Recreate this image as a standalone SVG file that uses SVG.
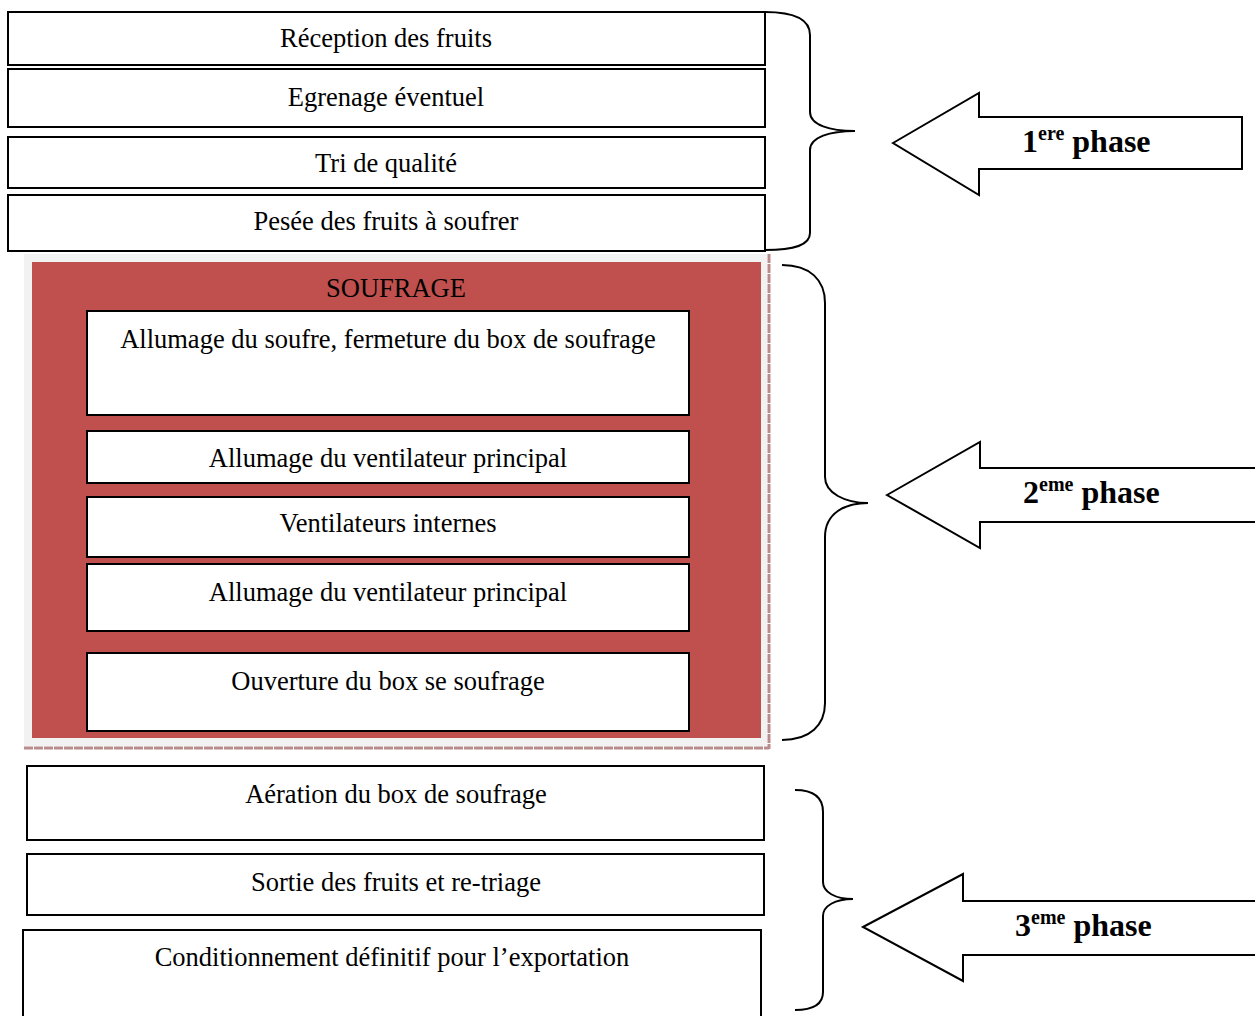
<svg xmlns="http://www.w3.org/2000/svg" width="1255" height="1016" viewBox="0 0 1255 1016">
<style>
.box{fill:#fff;stroke:#000;stroke-width:2}
.t{font-family:"Liberation Serif","Times New Roman",serif;font-size:26.5px;fill:#000;text-anchor:middle}
.ph{font-family:"Liberation Serif","Times New Roman",serif;font-size:32px;font-weight:bold;fill:#000}
.sup{font-size:20px}
.arrow{fill:#fff;stroke:#000;stroke-width:2;stroke-linejoin:miter}
.brace{fill:none;stroke:#000;stroke-width:2}
.dots{stroke:#b98c8c;stroke-width:3;stroke-dasharray:9,1}
</style>
<rect width="1255" height="1016" fill="#fff"/>

<g id="phase1-nodes">
  <g id="n-reception"><rect class="box" x="8" y="12" width="757" height="53"/><text class="t" x="386" y="47">Réception des fruits</text></g>
  <g id="n-egrenage"><rect class="box" x="8" y="69" width="757" height="58"/><text class="t" x="386" y="106">Egrenage éventuel</text></g>
  <g id="n-tri"><rect class="box" x="8" y="137" width="757" height="51"/><text class="t" x="386" y="172">Tri de qualité</text></g>
  <g id="n-pesee"><rect class="box" x="8" y="195" width="757" height="56"/><text class="t" x="386" y="230">Pesée des fruits à soufrer</text></g>
</g>

<g id="soufrage">
  <rect x="24" y="254" width="743" height="492" fill="#f2f2f2"/>
  <line class="dots" x1="24" y1="748" x2="769" y2="748"/>
  <line class="dots" x1="769" y1="254" x2="769" y2="749"/>
  <rect x="32" y="262" width="729" height="476" fill="#c0504d"/>
  <text class="t" x="396" y="297">SOUFRAGE</text>
  <g id="n-allumage-soufre"><rect class="box" x="87" y="311" width="602" height="104"/><text class="t" x="388" y="348">Allumage du soufre, fermeture du box de soufrage</text></g>
  <g id="n-allumage-vent1"><rect class="box" x="87" y="431" width="602" height="52"/><text class="t" x="388" y="467">Allumage du ventilateur principal</text></g>
  <g id="n-vent-internes"><rect class="box" x="87" y="497" width="602" height="60"/><text class="t" x="388" y="532">Ventilateurs internes</text></g>
  <g id="n-allumage-vent2"><rect class="box" x="87" y="564" width="602" height="67"/><text class="t" x="388" y="601">Allumage du ventilateur principal</text></g>
  <g id="n-ouverture"><rect class="box" x="87" y="653" width="602" height="78"/><text class="t" x="388" y="690">Ouverture du box se soufrage</text></g>
</g>

<g id="phase3-nodes">
  <g id="n-aeration"><rect class="box" x="27" y="766" width="737" height="74"/><text class="t" x="396" y="803">Aération du box de soufrage</text></g>
  <g id="n-sortie"><rect class="box" x="27" y="854" width="737" height="61"/><text class="t" x="396" y="891">Sortie des fruits et re-triage</text></g>
  <g id="n-conditionnement"><rect class="box" x="23" y="930" width="738" height="95"/><text class="t" x="392" y="966">Conditionnement définitif pour l’exportation</text></g>
</g>

<g id="connectors">
  <path class="brace" d="M765,12 C795,12 810,20 810,35 L810,112 C810,125 830,131 855,131 C830,131 810,137 810,150 L810,233 C810,245 795,250 765,250"/>
  <path class="brace" d="M782,265 C810,265 825,280 825,303 L825,477 C825,493 845,503 868,503 C845,503 825,513 825,537 L825,703 C825,725 810,740 782,740"/>
  <path class="brace" d="M795,790 C815,790 823,798 823,812 L823,882 C823,892 835,899 853,899 C835,899 823,906 823,916 L823,992 C823,1003 815,1010 795,1010"/>
</g>

<g id="arrow1">
  <polygon class="arrow" points="893,143 979,93 979,117 1242,117 1242,169 979,169 979,195"/>
  <text class="ph" x="1022" y="152">1<tspan class="sup" dy="-12">ere</tspan><tspan dy="12"> phase</tspan></text>
</g>
<g id="arrow2">
  <polygon class="arrow" points="887,495 980,442 980,468 1262,468 1262,522 980,522 980,548"/>
  <text class="ph" x="1023" y="503">2<tspan class="sup" dy="-12">eme</tspan><tspan dy="12"> phase</tspan></text>
</g>
<g id="arrow3">
  <polygon class="arrow" points="863,927 963,874 963,901 1262,901 1262,955 963,955 963,981"/>
  <text class="ph" x="1015" y="936">3<tspan class="sup" dy="-12">eme</tspan><tspan dy="12"> phase</tspan></text>
</g>
</svg>
